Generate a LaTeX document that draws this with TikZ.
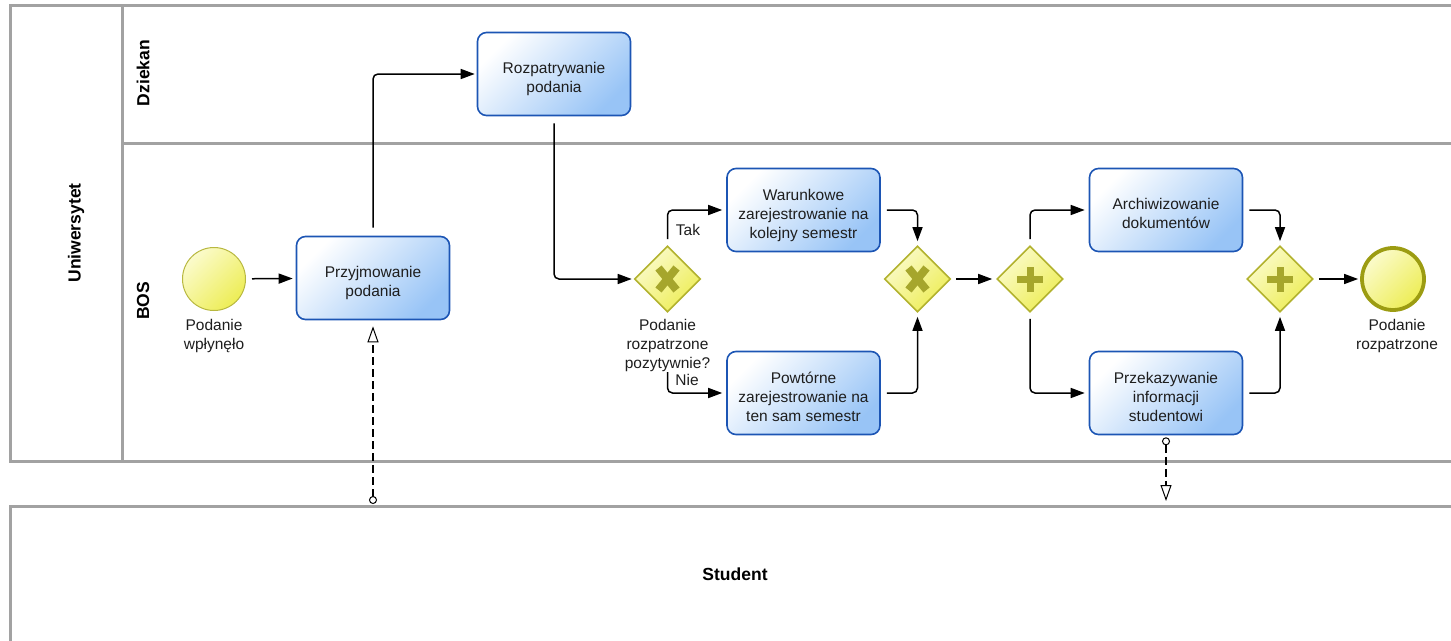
\documentclass[tikz,border=0pt]{standalone}
\usepackage{fontspec}
\setmainfont{Liberation Sans}
\usetikzlibrary{shapes.geometric,arrows.meta}

\definecolor{poolline}{HTML}{A2A2A2}
\definecolor{txt}{HTML}{1E1E1E}
\definecolor{taskline}{HTML}{1C55B4}
\definecolor{tasklight}{HTML}{FFFFFF}
\definecolor{taskdark}{HTML}{98C4F6}
\definecolor{gwline}{HTML}{B2B22E}
\definecolor{gwlight}{HTML}{FBFBCC}
\definecolor{gwdark}{HTML}{EDED55}
\definecolor{gwmark}{HTML}{A6A62C}
\definecolor{evline}{HTML}{B8B840}
\definecolor{endline}{HTML}{9C9C12}

% task captions: centred lines, set a little below the box centre
\newcommand{\tasklines}[1]{\raisebox{0pt}[\dimexpr\height+11pt\relax][\depth]{\begin{tabular}{@{}c@{}}#1\end{tabular}}}

\tikzset{
  x=1pt, y=-1pt,
  every node/.style={font=\fontsize{15.5}{19}\selectfont, text=txt},
  pool/.style={draw=poolline, line width=3pt},
  lanelabel/.style={font=\bfseries\fontsize{17.5}{20}\selectfont, text=black, rotate=90},
  task/.style={rounded corners=9pt, draw=taskline, line width=1.6pt,
    minimum width=153pt, minimum height=83pt, inner sep=0pt,
    top color=tasklight, bottom color=taskdark, shading angle=45},
  gateway/.style={diamond, aspect=1, inner sep=0pt, minimum width=66pt, minimum height=66pt,
    draw=gwline, line width=1.6pt, top color=gwlight, bottom color=gwdark, shading angle=45},
  xorgw/.style={gateway, path picture={
    \draw[gwmark, line width=8pt]
      ([shift={(-9pt,-11pt)}]path picture bounding box.center) --
      ([shift={(9pt,11pt)}]path picture bounding box.center);
    \draw[gwmark, line width=8pt]
      ([shift={(-9pt,11pt)}]path picture bounding box.center) --
      ([shift={(9pt,-11pt)}]path picture bounding box.center);}},
  andgw/.style={gateway, path picture={
    \fill[gwmark]
      ([shift={(-13pt,-3.5pt)}]path picture bounding box.center) rectangle
      ([shift={(13pt,3.5pt)}]path picture bounding box.center);
    \fill[gwmark]
      ([shift={(-3.5pt,-12.5pt)}]path picture bounding box.center) rectangle
      ([shift={(3.5pt,12.5pt)}]path picture bounding box.center);}},
  startev/.style={circle, inner sep=0pt, minimum size=63pt, draw=evline, line width=1pt,
    top color=gwlight, bottom color=gwdark, shading angle=45},
  endev/.style={circle, inner sep=0pt, minimum size=62pt, draw=endline, line width=3.8pt,
    top color=gwlight, bottom color=gwdark, shading angle=45},
  evlabel/.style={align=center, fill=white, inner sep=1pt},
  flowlabel/.style={inner sep=1pt},
  seq/.style={draw=black, line width=1.5pt, rounded corners=5pt,
    -{Triangle[length=14pt, width=10pt]}},
  msg/.style={draw=black, line width=2.4pt, dash pattern=on 8pt off 4pt,
    {Circle[open, length=8pt, width=8pt, line width=1pt, fill=white]}-{Triangle[open, length=16pt, width=11pt, line width=1pt, fill=white]}},
}

\begin{document}
\begin{tikzpicture}
\useasboundingbox (0,0) rectangle (1451,640);
\clip (0,0) rectangle (1451,640);

% pools and lanes
\draw[pool] (1460,5.5) -- (10,5.5) -- (10,461) -- (1460,461);
\draw[pool] (122.5,5.5) -- (122.5,461);
\draw[pool] (122.5,143) -- (1460,143);
\draw[pool] (10,660) -- (10,506.5) -- (1460,506.5);

\node[lanelabel] (uni) at (76,233) {Uniwersytet};
\node[lanelabel] (dziekan) at (143,73) {Dziekan};
\node[lanelabel] (bos) at (143,301) {BOS};
\node[font=\bfseries\fontsize{17.5}{20}\selectfont, text=black] (student) at (735,574) {Student};

% flow objects
\node[startev] (start) at (214,279) {};
\node[task] (t1) at (373,278) {\tasklines{Przyjmowanie\\podania}};
\node[task] (t2) at (554,74) {\tasklines{Rozpatrywanie\\podania}};
\node[xorgw] (g1) at (667.5,279) {};
\node[task] (tw) at (803.5,210) {\tasklines{Warunkowe\\zarejestrowanie na\\kolejny semestr}};
\node[task] (tp) at (803.5,393) {\tasklines{Powtórne\\zarejestrowanie na\\ten sam semestr}};
\node[xorgw] (g2) at (917.5,279) {};
\node[andgw] (g3) at (1030,279) {};
\node[task] (ta) at (1166,210) {\tasklines{Archiwizowanie\\dokumentów}};
\node[task] (tk) at (1166,393) {\tasklines{Przekazywanie\\informacji\\studentowi}};
\node[andgw] (g4) at (1280,279) {};
\node[endev] (end) at (1393,279) {};

% message flow anchors on the Student pool border
\coordinate (stin) at (373,504);
\coordinate (stout) at (1166,501);

% sequence flows
\draw[seq, shorten <=6pt, shorten >=3pt] (start) -- (t1);
\draw[seq, shorten <=8pt, shorten >=2pt] (t1.north) |- (t2.west);
\draw[seq, shorten <=7pt, shorten >=2pt] (t2.south) |- (g1.west);
\draw[seq, shorten <=6pt, shorten >=4pt] (g1.north) |- (tw.west);
\draw[seq, shorten <=6pt, shorten >=4pt] (g1.south) |- (tp.west);
\draw[seq, shorten <=6pt, shorten >=4pt] (tw.east) -| (g2.north);
\draw[seq, shorten <=6pt, shorten >=4pt] (tp.east) -| (g2.south);
\draw[seq, shorten <=5pt, shorten >=4pt] (g2.east) -- (g3.west);
\draw[seq, shorten <=6pt, shorten >=4pt] (g3.north) |- (ta.west);
\draw[seq, shorten <=6pt, shorten >=4pt] (g3.south) |- (tk.west);
\draw[seq, shorten <=6pt, shorten >=4pt] (ta.east) -| (g4.north);
\draw[seq, shorten <=6pt, shorten >=4pt] (tk.east) -| (g4.south);
\draw[seq, shorten <=5pt, shorten >=2pt] (g4.east) -- (end.west);

% message flows
\draw[msg, shorten >=6pt] (stin) -- (t1.south);
\draw[msg, shorten <=2pt] (tk.south) -- (stout);

% labels
\node[evlabel] (startlbl) at (214,336) {Podanie\\wpłynęło};
\node[evlabel] (g1lbl) at (667.5,345) {Podanie\\rozpatrzone\\pozytywnie?};
\node[evlabel] (endlbl) at (1397,336) {Podanie\\rozpatrzone};
\node[flowlabel] (tak) at (688,230) {Tak};
\node[flowlabel] (nie) at (687,380) {Nie};
\end{tikzpicture}
\end{document}
